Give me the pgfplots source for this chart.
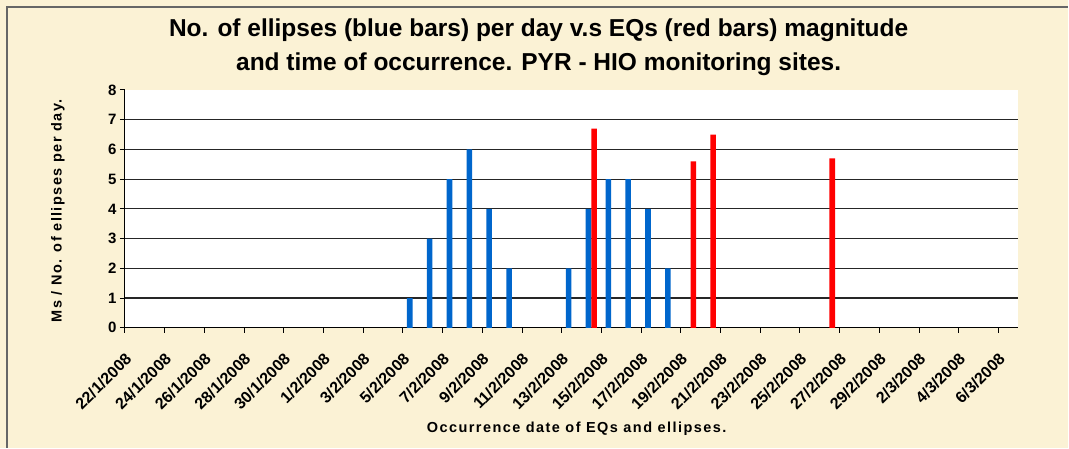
\documentclass[border=0pt]{standalone}
\usepackage{pgfplots}
\pgfplotsset{compat=1.18}
\usepackage{fontspec}
\setmainfont{Liberation Sans}
\newfontfamily\titlefont{Liberation Sans}
\newfontfamily\spacedfont[LetterSpace=10]{Liberation Sans}
\definecolor{bg}{HTML}{FBF2D5}
\definecolor{barblue}{HTML}{0066CC}
\definecolor{barred}{HTML}{FF0000}
\begin{document}
\begin{tikzpicture}[x=1pt,y=1pt]
\fill[bg] (0,0) rectangle (1069,448);
\draw[black!60, line width=1.5pt] (7,0) -- (7,441) -- (1069,441);
\useasboundingbox (0,0) rectangle (1069,448);
\begin{axis}[
  at={(125pt,120pt)}, anchor=south west,
  scale only axis, width=894pt, height=238pt,
  xmin=0, xmax=45, ymin=0, ymax=8,
  axis x line*=bottom, axis y line*=left,
  axis line style={black, line width=1pt, -},
  xtick={0,2,...,44},
  xticklabels={22/1/2008,24/1/2008,26/1/2008,28/1/2008,30/1/2008,1/2/2008,3/2/2008,5/2/2008,7/2/2008,9/2/2008,11/2/2008,13/2/2008,15/2/2008,17/2/2008,19/2/2008,21/2/2008,23/2/2008,25/2/2008,27/2/2008,29/2/2008,2/3/2008,4/3/2008,6/3/2008},
  ytick={0,...,7}, extra y ticks={8}, extra y tick style={grid=none},
  ymajorgrids, grid style={black!85, line width=1.1pt},
  tick align=outside, major tick length=5pt,
  tick style={black, line width=0.9pt},
  axis background/.style={fill=white},
  yticklabel style={font=\bfseries\fontsize{15}{15}\selectfont},
  xticklabel style={rotate=45, anchor=north east, font=\bfseries\fontsize{16}{16}\selectfont, inner sep=1pt, yshift=-12pt, xshift=-13pt},
  /pgf/number format/assume math mode=true,
  ybar, bar width=5.6pt,
]
\addplot[ybar, fill=barblue, draw=none, bar shift=-3pt] coordinates {(14.5,1) (15.5,3) (16.5,5) (17.5,6) (18.5,4) (19.5,2) (22.5,2) (23.5,4) (24.5,5) (25.5,5) (26.5,4) (27.5,2)};
\addplot[ybar, fill=barred, draw=none, bar shift=2.6pt] coordinates {(23.5,6.7) (28.5,5.6) (29.5,6.5) (35.5,5.7)};
\end{axis}
\node[font=\titlefont\bfseries\fontsize{24.5}{24.5}\selectfont] at (539,418) {No. of ellipses (blue bars) per day v.s EQs (red bars) magnitude};
\node[font=\titlefont\bfseries\fontsize{24.5}{24.5}\selectfont] at (539,384) {and time of occurrence. PYR - HIO monitoring sites.};
\node[rotate=90, font=\spacedfont\bfseries\fontsize{14.5}{14.5}\selectfont] at (58,237) {Ms / No. of ellipses per day.};
\node[font=\spacedfont\bfseries\fontsize{14.5}{14.5}\selectfont] at (577,19) {Occurrence date of EQs and ellipses.};
\end{tikzpicture}
\end{document}
